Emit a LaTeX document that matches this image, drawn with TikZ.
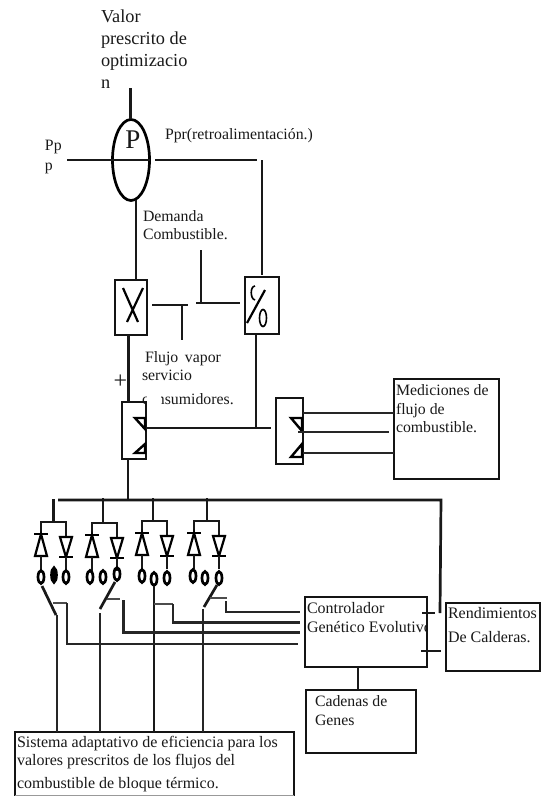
\documentclass[tikz,border=0pt]{standalone}
\usepackage{fontspec}
\setmainfont{Liberation Serif}
\usetikzlibrary{shapes.geometric}
\tikzset{
  ln/.style={line width=2.7pt,draw=black!90},
  fb/.style={line width=2.3pt,draw=black!85},
  thin line/.style={line width=1.2pt,draw=black!70},
  boxn/.style={draw=black!92,line width=2.7pt,inner sep=0pt,outer sep=0pt,fill=none},
  lbl/.style={anchor=base west,inner sep=0pt,outer sep=0pt,font=\fontsize{15.8}{15.8}\selectfont,text=black!90},
  big/.style={lbl,font=\fontsize{18.3}{18.3}\selectfont},
  mid/.style={lbl,font=\fontsize{16}{16}\selectfont},
  oval/.style={draw=black,line width=2.7pt,ellipse,inner sep=0pt,outer sep=0pt,minimum width=6pt,minimum height=13pt},
  ovalb/.style={oval,line width=3.6pt,minimum width=4pt},
}
\newcommand{\diodes}[3]{% left x, right x, bus y
  \draw[ln] (#1,#3+14) -- (#1,#3) -- (#2,#3) -- (#2,#3+15);
  \draw[line width=2.6pt,black] (#1-7,#3+12) -- (#1+7,#3+12);
  \draw[line width=2.2pt,black,line join=miter] (#1,#3+12) -- (#1-6,#3+34) -- (#1+6,#3+34) -- cycle;
  \draw[ln] (#1,#3+34) -- (#1,#3+48);
  \draw[line width=2.2pt,black,line join=miter] (#2-6,#3+15) -- (#2+6,#3+15) -- (#2,#3+35) -- cycle;
  \draw[line width=2.6pt,black] (#2-7,#3+35) -- (#2+7,#3+35);
  \draw[ln] (#2,#3+35) -- (#2,#3+48);
}
\begin{document}
\begin{tikzpicture}[x=1pt,y=-1pt]
\useasboundingbox (0,0) rectangle (545,796);
\fill[white] (0,0) rectangle (545,796);

% top texts
\node[big] (v1) at (101,22) {Valor};
\node[big] (v2) at (101,44) {prescrito de};
\node[big] (v3) at (101,66) {optimizacio};
\node[big] (v4) at (101,88) {n};
\node[lbl] (pp1) at (45,150) {Pp};
\node[lbl] (pp2) at (45,170) {p};
\node[lbl] (ppr) at (165,139) {Ppr(retroalimentación.)};
\node[lbl] (dem1) at (143,221) {Demanda};
\node[lbl] (dem2) at (143,239) {Combustible.};

% summing ellipse
\node[draw=black,line width=2.7pt,ellipse,inner sep=0pt,outer sep=0pt,minimum width=37pt,minimum height=81pt] (pid) at (131,160) {};
\node[inner sep=0pt,font=\fontsize{27}{27}\selectfont,text=black!90] (pl) at (133,140) {P};
\coordinate (ptop) at (130.5,88);
\coordinate (pin) at (67,160);
\coordinate (pfb) at (155,160);
\coordinate (pfe) at (257,160);
\draw[ln] (ptop) -- (130.5,119);
\draw[ln] (pin) -- (150,160);
\draw[ln] (pfb) -- (pfe);

% X and % blocks
\node[boxn,minimum width=32pt,minimum height=55pt] (xb) at (131,307.5) {};
\node[boxn,minimum width=34pt,minimum height=57pt] (db) at (262,305.5) {};
\draw[line width=2.2pt,black] (123,288) -- (138,322) (127,322) -- (143,288);
\draw[line width=2.2pt,black] (247,323) -- (265,290);
\draw[line width=1.6pt,black] (255,286) .. controls (250,286) and (250,299) .. (255,300);
\node[draw=black,line width=1.6pt,ellipse,inner sep=0pt,minimum width=7pt,minimum height=17pt] (zero) at (263,318) {};
\draw[ln] (136,200) -- (136,280);
\draw[ln] (262,160) -- (262,275);

% Middle tees
\coordinate (t1a) at (152,305);
\coordinate (t1b) at (188,305);
\coordinate (t1c) at (182,305);
\coordinate (t1d) at (182,340);
\draw[ln] (t1a) -- (t1b) (t1c) -- (t1d);
\coordinate (t2a) at (196,303);
\coordinate (t2b) at (240,303);
\coordinate (t2c) at (201,303);
\coordinate (t2d) at (201,250);
\draw[ln] (t2a) -- (t2b) (t2c) -- (t2d);

% flujo vapor
\node[lbl] (f1) at (145,362) {Flujo\, vapor};
\node[lbl] (f2) at (142,380) {servicio};
\node[lbl] (f3) at (142,404) {consumidores.};
\fill[white] (147,390) rectangle (161,408);
\node[lbl,font=\fontsize{24}{24}\selectfont] (plus) at (113.5,388) {+};

% sum blocks
\node[boxn,minimum width=24pt,minimum height=57pt] (sl) at (134,430.5) {};
\node[boxn,minimum width=27pt,minimum height=66pt] (sr) at (289.5,431) {};
\draw[line width=2.4pt,black,line join=miter] (135,418) -- (145,418) -- (145,429) -- cycle (135,453) -- (145,453) -- (145,444) -- cycle;
\draw[line width=2.4pt,black,line join=miter] (291,418) -- (302,418) -- (302,431) -- cycle (291,457) -- (302,457) -- (302,444) -- cycle;
\draw[ln] (128.5,335) -- (128.5,402);
\draw[ln] (128,459) -- (128,500);
\draw[ln] (146,428) -- (271,428);
\draw[ln] (256,335) -- (256,428);

% mediciones
\node[boxn,minimum width=105pt,minimum height=100pt] (med) at (446.5,429) {};
\node[lbl] (m1) at (396,395) {Mediciones de};
\node[lbl] (m2) at (396,414) {flujo de};
\node[lbl] (m3) at (396,432) {combustible.};
\draw[fb] (sr.east |- 0,413) -- (med.west |- 0,413);
\draw[fb] (298,432) -- (389,432);
\draw[fb] (sr.east |- 0,453) -- (med.west |- 0,453);

% bus
\coordinate (busl) at (58,500);
\coordinate (busr) at (441,500);
\draw[ln] (busl) -- (busr) -- (440,613);
\draw[ln] (53.5,499) -- (53.5,522);
\draw[ln] (103,498) -- (103,523);
\draw[ln] (153,498) -- (153,521);
\draw[ln] (207,498) -- (207,521);

% diode groups
\diodes{41}{66}{522}
\diodes{92}{117}{523}
\diodes{142}{167}{521}
\diodes{194}{219}{521}

% ovals
\node[oval] (o11) at (41,577) {};
\node[ovalb] (o12) at (54,575) {};
\node[oval] (o13) at (66,577) {};
\node[oval] (o21) at (90,577) {};
\node[oval] (o22) at (103,577) {};
\node[oval] (o23) at (117,574) {};
\node[oval] (o31) at (142,576) {};
\node[oval] (o32) at (154,579) {};
\node[oval] (o33) at (167,578) {};
\node[oval] (o41) at (193,576) {};
\node[oval] (o42) at (205,578) {};
\node[oval] (o43) at (219,578) {};

% boxes at the bottom
\node[boxn,minimum width=122pt,minimum height=70pt] (ctl) at (366,632) {};
\node[boxn,minimum width=94pt,minimum height=68pt] (ren) at (493,637) {};
\node[boxn,minimum width=110pt,minimum height=63pt] (cad) at (361,721.5) {};
\draw[draw=black!92,line width=2.7pt] (15,796) -- (15,732) -- (294,732) -- (294,796);
\draw[black!40,line width=1pt] (15,795.5) -- (294,795.5);

\node[mid] (c1) at (307,613) {Controlador};
\begin{scope}
\clip (305,615) rectangle (425.5,640);
\node[mid] (c2) at (307,632) {Genético Evolutivo};
\end{scope}
\node[mid] (r1) at (448,618) {Rendimientos};
\node[mid] (r2) at (448,642) {De Calderas.};
\node[lbl] (g1) at (315,706) {Cadenas de};
\node[lbl] (g2) at (315,725) {Genes};
\node[lbl,font=\fontsize{16}{16}\selectfont] (s1) at (17,747) {Sistema adaptativo de eficiencia para los};
\node[lbl,font=\fontsize{16}{16}\selectfont] (s2) at (17,765) {valores prescritos de los flujos del};
\node[lbl,font=\fontsize{16}{16}\selectfont] (s3) at (17,788) {combustible de bloque térmico.};

\draw[ln] (358,667) -- (358,690);
\draw[ln] (422,613) -- (435,613);
\draw[ln] (421,651) -- (441,651);

% switches
\draw[ln] (42,586) -- (56,615);
\draw[fb] (57,615) -- (57,732);
\draw[ln] (115,582) -- (100,609);
\draw[fb] (100,613) -- (100,732);
\draw[ln] (o32.south) -- (154,732);
\draw[ln] (217,585) -- (204,607);
\draw[fb] (203,609) -- (203,732);

% thin pick-offs and feedback lines
\draw[thin line] (53,603) -- (67,603);
\draw[fb] (67,603) -- (67,644) -- (298,644);
\draw[thin line] (107,599) -- (120,599);
\draw[fb] (123.5,600) -- (123.5,632.5) -- (300,632.5);
\draw[thin line] (154,604) -- (173,604);
\draw[fb] (173,604) -- (173,622.5) -- (300,622.5);
\draw[thin line] (210,598) -- (227,598);
\draw[fb] (226,601) -- (226,612) -- (300,612);
\end{tikzpicture}
\end{document}
